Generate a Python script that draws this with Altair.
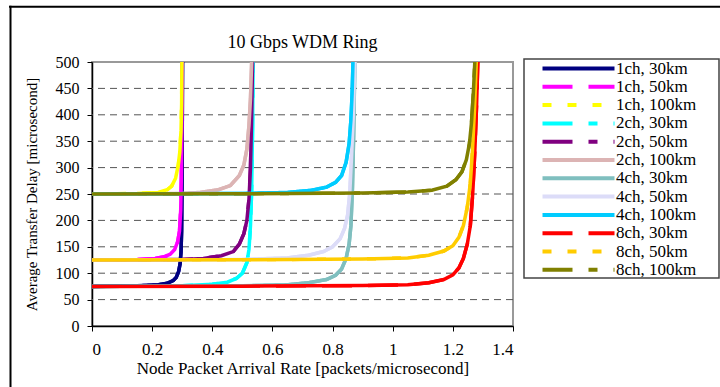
import altair as alt
import pandas as pd

FONT = "Liberation Serif"

series_names = ["1ch, 30km", "1ch, 50km", "1ch, 100km",
                "2ch, 30km", "2ch, 50km", "2ch, 100km",
                "4ch, 30km", "4ch, 50km", "4ch, 100km",
                "8ch, 30km", "8ch, 50km", "8ch, 100km"]
series_colors = ["#000080", "#FF00FF", "#FFFF00",
                 "#00FFFF", "#800080", "#DCB4B4",
                 "#7FBFBF", "#DCDCF8", "#00CCFF",
                 "#FF0000", "#FFCC00", "#808000"]
series_dashes = [[1, 0], [30, 16], [9, 16],
                 [30, 16, 9, 16], [30, 16, 9, 16], [1, 0],
                 [1, 0], [1, 0], [1, 0],
                 [30, 16], [9, 16], [30, 16, 9, 16]]

x_1ch_30 = [0, 0.15, 0.22, 0.25, 0.27, 0.28, 0.288, 0.293, 0.296, 0.298, 0.299, 0.300, 0.301]
y_1ch_30 = [75, 76, 78, 81, 86, 92, 103, 118, 140, 180, 250, 350, 500]
x_1ch_50 = [0, 0.15, 0.21, 0.24, 0.26, 0.275, 0.285, 0.291, 0.295, 0.297, 0.299, 0.300]
y_1ch_50 = [125, 126, 128, 131, 136, 145, 160, 180, 220, 280, 380, 500]
x_1ch_100 = [0, 0.15, 0.22, 0.25, 0.265, 0.278, 0.287, 0.292, 0.296, 0.298, 0.299]
y_1ch_100 = [250, 251, 253, 258, 265, 280, 305, 330, 370, 420, 500]

x_2ch_30 = [0, 0.30, 0.40, 0.45, 0.48, 0.50, 0.515, 0.522, 0.527, 0.531, 0.534, 0.536]
y_2ch_30 = [75, 76, 79, 83, 90, 100, 120, 145, 190, 260, 380, 500]
x_2ch_50 = [0, 0.30, 0.37, 0.43, 0.47, 0.49, 0.505, 0.515, 0.522, 0.527, 0.531, 0.534]
y_2ch_50 = [125, 126, 128, 133, 141, 155, 175, 200, 240, 300, 400, 500]
x_2ch_100 = [0, 0.30, 0.36, 0.42, 0.46, 0.49, 0.505, 0.515, 0.522, 0.527, 0.531]
y_2ch_100 = [250, 251, 253, 258, 266, 285, 305, 335, 380, 430, 500]

x_4ch_30 = [0, 0.50, 0.65, 0.72, 0.78, 0.81, 0.83, 0.845, 0.855, 0.861, 0.866, 0.870, 0.874]
y_4ch_30 = [75, 76, 78, 82, 88, 96, 108, 128, 155, 190, 260, 360, 500]
x_4ch_50 = [0, 0.50, 0.65, 0.72, 0.77, 0.80, 0.825, 0.84, 0.85, 0.857, 0.863, 0.869, 0.874]
y_4ch_50 = [125, 126, 129, 134, 141, 150, 165, 185, 210, 250, 320, 400, 500]
x_4ch_100 = [0, 0.50, 0.65, 0.73, 0.78, 0.81, 0.83, 0.845, 0.855, 0.861, 0.865, 0.868]
y_4ch_100 = [250, 251, 253, 257, 263, 272, 285, 310, 345, 390, 440, 500]

x_8ch_30 = [0, 0.50, 0.90, 1.05, 1.12, 1.17, 1.20, 1.22, 1.235, 1.248, 1.258, 1.266, 1.273, 1.279, 1.283]
y_8ch_30 = [75, 75.5, 76.5, 78, 82, 88, 97, 110, 128, 155, 190, 250, 330, 420, 500]
x_8ch_50 = [0, 0.50, 0.90, 1.05, 1.12, 1.17, 1.20, 1.22, 1.235, 1.248, 1.258, 1.265, 1.272, 1.278]
y_8ch_50 = [125, 125.5, 127, 129, 134, 142, 152, 168, 190, 225, 270, 330, 410, 500]
x_8ch_100 = [0, 0.50, 0.90, 1.05, 1.13, 1.18, 1.21, 1.23, 1.245, 1.255, 1.262, 1.268, 1.273]
y_8ch_100 = [250, 250.5, 252, 254, 257, 265, 277, 292, 315, 345, 385, 440, 500]

all_x = [x_1ch_30, x_1ch_50, x_1ch_100, x_2ch_30, x_2ch_50, x_2ch_100,
         x_4ch_30, x_4ch_50, x_4ch_100, x_8ch_30, x_8ch_50, x_8ch_100]
all_y = [y_1ch_30, y_1ch_50, y_1ch_100, y_2ch_30, y_2ch_50, y_2ch_100,
         y_4ch_30, y_4ch_50, y_4ch_100, y_8ch_30, y_8ch_50, y_8ch_100]

x_ticks = [0, 0.2, 0.4, 0.6, 0.8, 1.0, 1.2, 1.4]
y_ticks = [0, 50, 100, 150, 200, 250, 300, 350, 400, 450, 500]
grid_y = [50, 100, 150, 200, 250, 300, 350, 400, 450]
chart_title = "10 Gbps WDM Ring"

rows = []
for name, col, xv, yv in zip(series_names, series_colors, all_x, all_y):
    for a, b in zip(xv, yv):
        rows.append({"series": name, "hex": col, "x": a, "y": b})
df = pd.DataFrame(rows)

W, H = 421, 264
xscale = alt.Scale(domain=[0, 1.4], nice=False, zero=False)
yscale = alt.Scale(domain=[0, 500], nice=False, zero=False)

xaxis = alt.Axis(
    values=x_ticks, grid=False, labelExpr="toString(datum.value)",
    title="Node Packet Arrival Rate [packets/microsecond]",
    labelPadding=10, titlePadding=3, titleFontSize=17, labelFontSize=17,
)
yaxis = alt.Axis(
    values=y_ticks, grid=False,
    title="Average Transfer Delay [microsecond]",
    labelPadding=8, titlePadding=16, titleFontSize=15,
)

leg = alt.Legend(
    title=None, orient="none", legendX=447, legendY=-2,
    symbolType="M-12,0H12", symbolSize=36, symbolStrokeWidth=4,
    symbolOffset=31, labelOffset=29,
    labelFont=FONT, labelFontSize=17, labelColor="black",
    padding=0, rowPadding=0.3, labelLimit=300,
)

grid = alt.Chart(pd.DataFrame({"g": grid_y})).mark_rule(
    color="#555555", strokeWidth=1, strokeDash=[7, 5]
).encode(y=alt.Y("g:Q", scale=yscale, axis=yaxis))

legend_lines = alt.Chart(df).mark_line(strokeWidth=3.5, clip=True).encode(
    x=alt.X("x:Q", scale=xscale, axis=xaxis),
    y=alt.Y("y:Q", scale=yscale, axis=yaxis),
    color=alt.Color("series:N", scale=alt.Scale(domain=series_names, range=series_colors), legend=leg),
    strokeDash=alt.StrokeDash("series:N", scale=alt.Scale(domain=series_names, range=series_dashes), legend=leg),
)

lines = alt.Chart(df).mark_line(strokeWidth=3.5, clip=True).encode(
    x=alt.X("x:Q", scale=xscale, axis=xaxis),
    y=alt.Y("y:Q", scale=yscale, axis=yaxis),
    color=alt.Color("hex:N", scale=None),
)

one = pd.DataFrame({"a": [0]})
title_text = alt.Chart(pd.DataFrame({"t": [chart_title]})).mark_text(
    font=FONT, fontSize=18, color="black", align="center", baseline="alphabetic"
).encode(text="t:N", x=alt.value(210.5), y=alt.value(-14))

legend_box = alt.Chart(one).mark_rect(fillOpacity=0, stroke="#444444", strokeWidth=1.5).encode(
    x=alt.value(432), x2=alt.value(627), y=alt.value(-3), y2=alt.value(216)
)
frame_top = alt.Chart(one).mark_rule(color="black", strokeWidth=2).encode(
    x=alt.value(-83), x2=alt.value(640), y=alt.value(-55.3)
)
frame_left = alt.Chart(one).mark_rule(color="black", strokeWidth=2).encode(
    x=alt.value(-81.5), y=alt.value(-56.3), y2=alt.value(340)
)

chart = alt.layer(grid, legend_lines, lines, title_text, legend_box, frame_top, frame_left).properties(
    width=W, height=H,
    autosize=alt.AutoSizeParams(type="none"),
    padding={"left": 92, "top": 62, "right": 720 - 92 - W, "bottom": 387 - 62 - H},
    background="white",
).configure_view(
    stroke="#999999", strokeWidth=2
).configure_axis(
    labelFont=FONT, labelFontSize=16, labelColor="black",
    tickColor="black", tickSize=5, tickWidth=1,
    domainColor="black", domainWidth=1.5,
    titleFont=FONT, titleFontSize=16, titleFontWeight="normal", titleColor="black",
)

chart.save("out.html", embed_options={"renderer": "svg", "actions": False})
